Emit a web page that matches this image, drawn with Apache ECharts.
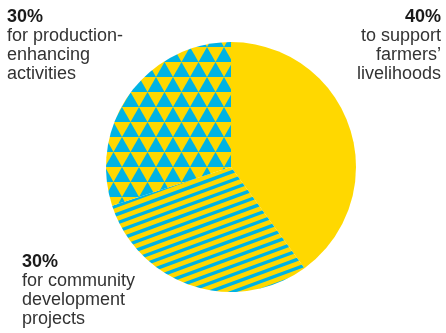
<!DOCTYPE html>
<html>
<head>
<meta charset="utf-8">
<style>
  html, body { margin: 0; padding: 0; background: #fff; }
  #chart { width: 446px; height: 333px; }
</style>
<script src="https://cdn.jsdelivr.net/npm/echarts@6/dist/echarts.min.js"></script>
</head>
<body>
<div id="chart"></div>
<script>
// data
const shares = [40, 30, 30];
const names = ['to support\nfarmers’\nlivelihoods', 'for community\ndevelopment\nprojects', 'for production-\nenhancing\nactivities'];

const YELLOW = '#FFD800';
const CYAN = '#00B3E3';

// stripe pattern (diagonal cyan lines on yellow)
function stripes() {
  const c = document.createElement('canvas');
  c.width = 446; c.height = 333;
  const ctx = c.getContext('2d');
  ctx.fillStyle = YELLOW;
  ctx.fillRect(0, 0, c.width, c.height);
  ctx.fillStyle = CYAN;
  const slope = 0.37, period = 8.6, thick = 3.6;
  for (let b = -200; b < 550; b += period) {
    ctx.beginPath();
    ctx.moveTo(0, b);
    ctx.lineTo(c.width, b - slope * c.width);
    ctx.lineTo(c.width, b - slope * c.width + thick);
    ctx.lineTo(0, b + thick);
    ctx.closePath();
    ctx.fill();
  }
  return c;
}

// triangle pattern (cyan up-triangles on yellow)
function triangles() {
  const c = document.createElement('canvas');
  c.width = 446; c.height = 333;
  const ctx = c.getContext('2d');
  ctx.fillStyle = YELLOW;
  ctx.fillRect(0, 0, c.width, c.height);
  ctx.fillStyle = CYAN;
  const w = 17, h = 15;
  for (let r = 0; r * h < c.height + h; r++) {
    const off = (r % 2) * w / 2 + 3;
    const y0 = r * h + 2;
    for (let x = -w + off; x < c.width + w; x += w) {
      ctx.beginPath();
      ctx.moveTo(x, y0 + h);
      ctx.lineTo(x + w / 2, y0);
      ctx.lineTo(x + w, y0 + h);
      ctx.closePath();
      ctx.fill();
    }
  }
  return c;
}

const fills = [YELLOW, { image: stripes(), repeat: 'repeat' }, { image: triangles(), repeat: 'repeat' }];

function labelText(i) {
  return '{b|' + shares[i] + '%}\n' + names[i].split('\n').map(s => '{n|' + s + '}').join('\n');
}

function richFor(align) {
  return {
    b: { fontSize: 18, fontWeight: 'bold', fill: '#1a1a1a', lineHeight: 19, fontFamily: 'Liberation Sans', align: align },
    n: { fontSize: 18, fill: '#333', lineHeight: 19, fontFamily: 'Liberation Sans', align: align }
  };
}

const chart = echarts.init(document.getElementById('chart'));
chart.setOption({
  animation: false,
  series: [{
    type: 'pie',
    center: [231, 167],
    radius: 125,
    startAngle: 90,
    clockwise: true,
    label: { show: false },
    labelLine: { show: false },
    emphasis: { disabled: true },
    itemStyle: { borderWidth: 0 },
    data: shares.map((v, i) => ({ value: v, name: names[i], itemStyle: { color: fills[i] } }))
  }],
  graphic: [
    { type: 'text', right: 5, top: 8, style: { text: labelText(0), align: 'right', rich: richFor('right') } },
    { type: 'text', left: 7, top: 8, style: { text: labelText(2), align: 'left', rich: richFor('left') } },
    { type: 'text', left: 22, top: 253, style: { text: labelText(1), align: 'left', rich: richFor('left') } }
  ]
});
</script>
</body>
</html>
